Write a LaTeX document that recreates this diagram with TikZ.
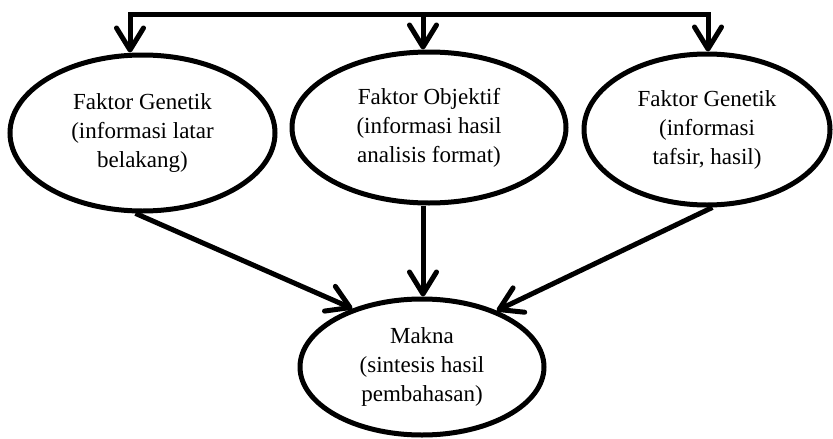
\documentclass[tikz,border=0pt]{standalone}
\usepackage{fontspec}
\setmainfont{Liberation Serif}
\usetikzlibrary{shapes.geometric,arrows.meta,calc}
\begin{document}
\begin{tikzpicture}[x=1pt,y=-1pt,
  bubble/.style={ellipse,draw,line width=5pt,inner sep=0pt,align=center,
    font=\fontsize{23}{29}\selectfont},
  link/.style={line width=5pt,
    -{Straight Barb[length=22pt,width=27pt,line cap=round,line join=round]}},
  bar/.style={line width=5pt,line cap=rect}]
\useasboundingbox (0,0) rectangle (833,439);

% the three sources of information
\node[bubble,minimum width=265pt,minimum height=156pt] (L) at (142.5,133)
  {Faktor Genetik\\(informasi latar\\belakang)};
\node[bubble,minimum width=274pt,minimum height=151pt] (M) at (429,127.5)
  {Faktor Objektif\\(informasi hasil\\analisis format)};
\node[bubble,minimum width=246pt,minimum height=151pt] (R) at (707,129.5)
  {Faktor Genetik\\(informasi\\tafsir, hasil)};

% the synthesis
\node[bubble,minimum width=244pt,minimum height=136pt] (B) at (422,367)
  {Makna\\(sintesis hasil\\pembahasan)};

% distribution bar along the top
\coordinate (tl) at (130,14);
\coordinate (tm) at (423,14);
\coordinate (tr) at (708,14);
\draw[bar] (tl) -- (tr);
\draw[link] (tl) -- (tl |- L.north);
\draw[link] (tm) -- (tm |- M.north);
\draw[link] (tr) -- (tr |- R.north);

% flows into the synthesis
\draw[link] (L.-95) -- (B.140);
\draw[link] (tm |- M.south) -- (tm |- B.north);
\draw[link] (R.-86) -- (B.37);
\end{tikzpicture}
\end{document}
